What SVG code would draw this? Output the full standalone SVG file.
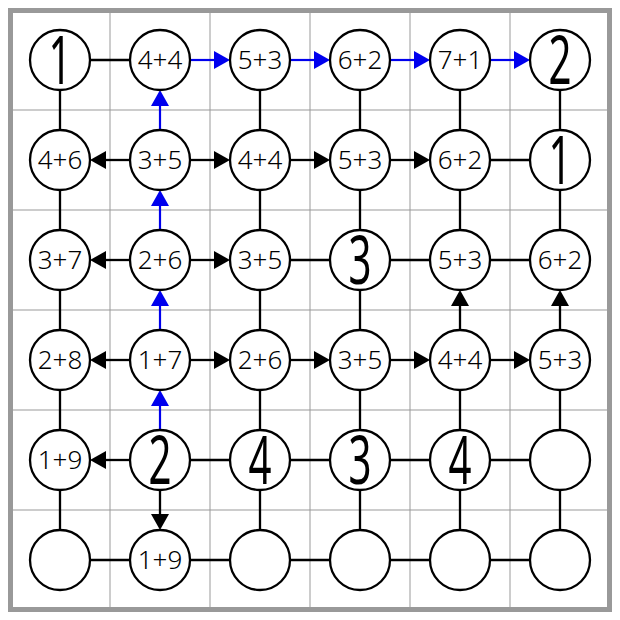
<svg xmlns="http://www.w3.org/2000/svg" width="620" height="620" viewBox="0 0 620 620">
<style>
.grid{stroke:#999;stroke-width:1;fill:none}
.frame{stroke:#999;stroke-width:5;fill:none}
.ln{stroke:#000;stroke-width:2.3;fill:none}
.ar{stroke:#000;stroke-width:2.3;fill:none;marker-end:url(#ak)}
.ab{stroke:#0000ee;stroke-width:2.2;fill:none;marker-end:url(#ab)}
.node circle{fill:#fff;stroke:#000;stroke-width:2.3}
.sm{font-family:"Noto Sans","DejaVu Sans",sans-serif;font-size:26px;font-weight:350;text-anchor:middle;fill:#000}
.big{font-family:"Noto Sans","DejaVu Sans",sans-serif;font-size:67px;font-weight:400;text-anchor:middle;fill:#000}
</style>
<defs>
<marker id="ak" viewBox="0 0 16 18" refX="8" refY="9" markerWidth="16" markerHeight="18" markerUnits="userSpaceOnUse" orient="auto"><path d="M0,0 L16,9 L0,18 Z" fill="#000"/></marker>
<marker id="ab" viewBox="0 0 16 18" refX="8" refY="9" markerWidth="16" markerHeight="18" markerUnits="userSpaceOnUse" orient="auto"><path d="M0,0 L16,9 L0,18 Z" fill="#0000ee"/></marker>
</defs>
<rect x="0" y="0" width="620" height="620" fill="#fff"/>
<g id="grid">
<path class="grid" d="M110,10V610M210,10V610M310,10V610M410,10V610M510,10V610M10,110H610M10,210H610M10,310H610M10,410H610M10,510H610"/>
<rect class="frame" x="10.5" y="10.5" width="599" height="599"/>
</g>
<g id="connectors">
<line class="ln" x1="60" y1="60" x2="160" y2="60"/>
<line class="ln" x1="460" y1="160" x2="560" y2="160"/>
<line class="ln" x1="260" y1="260" x2="560" y2="260"/>
<line class="ln" x1="160" y1="460" x2="560" y2="460"/>
<line class="ln" x1="60" y1="560" x2="560" y2="560"/>
<line class="ln" x1="60" y1="60" x2="60" y2="560"/>
<line class="ln" x1="260" y1="60" x2="260" y2="560"/>
<line class="ln" x1="360" y1="60" x2="360" y2="560"/>
<line class="ln" x1="460" y1="60" x2="460" y2="260"/>
<line class="ln" x1="460" y1="360" x2="460" y2="560"/>
<line class="ln" x1="560" y1="60" x2="560" y2="260"/>
<line class="ln" x1="560" y1="360" x2="560" y2="560"/>
<line class="ab" x1="190" y1="60" x2="222" y2="60"/>
<line class="ab" x1="290" y1="60" x2="322" y2="60"/>
<line class="ab" x1="390" y1="60" x2="422" y2="60"/>
<line class="ab" x1="490" y1="60" x2="522" y2="60"/>
<line class="ab" x1="160" y1="130" x2="160" y2="98"/>
<line class="ab" x1="160" y1="230" x2="160" y2="198"/>
<line class="ab" x1="160" y1="330" x2="160" y2="298"/>
<line class="ab" x1="160" y1="430" x2="160" y2="398"/>
<line class="ar" x1="130" y1="160" x2="98" y2="160"/>
<line class="ar" x1="190" y1="160" x2="222" y2="160"/>
<line class="ar" x1="290" y1="160" x2="322" y2="160"/>
<line class="ar" x1="390" y1="160" x2="422" y2="160"/>
<line class="ar" x1="130" y1="260" x2="98" y2="260"/>
<line class="ar" x1="190" y1="260" x2="222" y2="260"/>
<line class="ar" x1="130" y1="360" x2="98" y2="360"/>
<line class="ar" x1="190" y1="360" x2="222" y2="360"/>
<line class="ar" x1="290" y1="360" x2="322" y2="360"/>
<line class="ar" x1="390" y1="360" x2="422" y2="360"/>
<line class="ar" x1="490" y1="360" x2="522" y2="360"/>
<line class="ar" x1="130" y1="460" x2="98" y2="460"/>
<line class="ar" x1="160" y1="490" x2="160" y2="522"/>
<line class="ar" x1="460" y1="330" x2="460" y2="298"/>
<line class="ar" x1="560" y1="330" x2="560" y2="298"/>
</g>
<g id="n-0-0" class="node"><circle cx="60" cy="60" r="30"/><text class="big" transform="translate(60,84) scale(0.6,1)">1</text></g>
<g id="n-0-1" class="node"><circle cx="160" cy="60" r="30"/><text class="sm" x="160" y="69">4+4</text></g>
<g id="n-0-2" class="node"><circle cx="260" cy="60" r="30"/><text class="sm" x="260" y="69">5+3</text></g>
<g id="n-0-3" class="node"><circle cx="360" cy="60" r="30"/><text class="sm" x="360" y="69">6+2</text></g>
<g id="n-0-4" class="node"><circle cx="460" cy="60" r="30"/><text class="sm" x="460" y="69">7+1</text></g>
<g id="n-0-5" class="node"><circle cx="560" cy="60" r="30"/><text class="big" transform="translate(560,84) scale(0.6,1)">2</text></g>
<g id="n-1-0" class="node"><circle cx="60" cy="160" r="30"/><text class="sm" x="60" y="169">4+6</text></g>
<g id="n-1-1" class="node"><circle cx="160" cy="160" r="30"/><text class="sm" x="160" y="169">3+5</text></g>
<g id="n-1-2" class="node"><circle cx="260" cy="160" r="30"/><text class="sm" x="260" y="169">4+4</text></g>
<g id="n-1-3" class="node"><circle cx="360" cy="160" r="30"/><text class="sm" x="360" y="169">5+3</text></g>
<g id="n-1-4" class="node"><circle cx="460" cy="160" r="30"/><text class="sm" x="460" y="169">6+2</text></g>
<g id="n-1-5" class="node"><circle cx="560" cy="160" r="30"/><text class="big" transform="translate(560,184) scale(0.6,1)">1</text></g>
<g id="n-2-0" class="node"><circle cx="60" cy="260" r="30"/><text class="sm" x="60" y="269">3+7</text></g>
<g id="n-2-1" class="node"><circle cx="160" cy="260" r="30"/><text class="sm" x="160" y="269">2+6</text></g>
<g id="n-2-2" class="node"><circle cx="260" cy="260" r="30"/><text class="sm" x="260" y="269">3+5</text></g>
<g id="n-2-3" class="node"><circle cx="360" cy="260" r="30"/><text class="big" transform="translate(360,284) scale(0.6,1)">3</text></g>
<g id="n-2-4" class="node"><circle cx="460" cy="260" r="30"/><text class="sm" x="460" y="269">5+3</text></g>
<g id="n-2-5" class="node"><circle cx="560" cy="260" r="30"/><text class="sm" x="560" y="269">6+2</text></g>
<g id="n-3-0" class="node"><circle cx="60" cy="360" r="30"/><text class="sm" x="60" y="369">2+8</text></g>
<g id="n-3-1" class="node"><circle cx="160" cy="360" r="30"/><text class="sm" x="160" y="369">1+7</text></g>
<g id="n-3-2" class="node"><circle cx="260" cy="360" r="30"/><text class="sm" x="260" y="369">2+6</text></g>
<g id="n-3-3" class="node"><circle cx="360" cy="360" r="30"/><text class="sm" x="360" y="369">3+5</text></g>
<g id="n-3-4" class="node"><circle cx="460" cy="360" r="30"/><text class="sm" x="460" y="369">4+4</text></g>
<g id="n-3-5" class="node"><circle cx="560" cy="360" r="30"/><text class="sm" x="560" y="369">5+3</text></g>
<g id="n-4-0" class="node"><circle cx="60" cy="460" r="30"/><text class="sm" x="60" y="469">1+9</text></g>
<g id="n-4-1" class="node"><circle cx="160" cy="460" r="30"/><text class="big" transform="translate(160,484) scale(0.6,1)">2</text></g>
<g id="n-4-2" class="node"><circle cx="260" cy="460" r="30"/><text class="big" transform="translate(260,484) scale(0.6,1)">4</text></g>
<g id="n-4-3" class="node"><circle cx="360" cy="460" r="30"/><text class="big" transform="translate(360,484) scale(0.6,1)">3</text></g>
<g id="n-4-4" class="node"><circle cx="460" cy="460" r="30"/><text class="big" transform="translate(460,484) scale(0.6,1)">4</text></g>
<g id="n-4-5" class="node"><circle cx="560" cy="460" r="30"/></g>
<g id="n-5-0" class="node"><circle cx="60" cy="560" r="30"/></g>
<g id="n-5-1" class="node"><circle cx="160" cy="560" r="30"/><text class="sm" x="160" y="569">1+9</text></g>
<g id="n-5-2" class="node"><circle cx="260" cy="560" r="30"/></g>
<g id="n-5-3" class="node"><circle cx="360" cy="560" r="30"/></g>
<g id="n-5-4" class="node"><circle cx="460" cy="560" r="30"/></g>
<g id="n-5-5" class="node"><circle cx="560" cy="560" r="30"/></g>
</svg>
